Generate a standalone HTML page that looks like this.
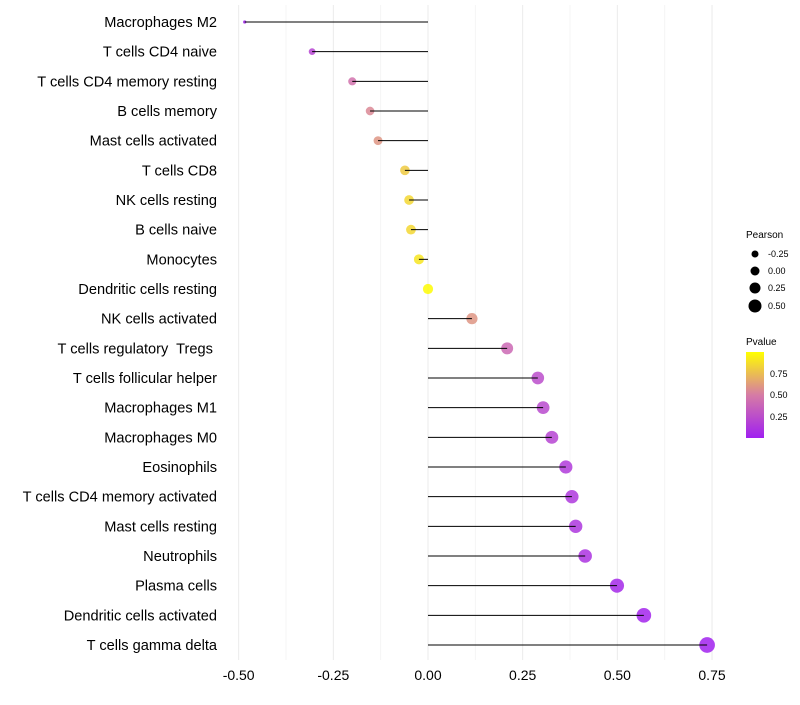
<!DOCTYPE html>
<html><head><meta charset="utf-8"><style>
body{margin:0;background:#fff;font-family:"Liberation Sans",sans-serif}
text{white-space:pre}
</style></head><body>
<svg id="c" width="800" height="700" xmlns="http://www.w3.org/2000/svg" style="white-space:pre">
<defs><linearGradient id="pg" x1="0" y1="1" x2="0" y2="0">
<stop offset="0" stop-color="#A020F0"/><stop offset="0.5" stop-color="#D67BA5"/><stop offset="1" stop-color="#FFFF00"/></linearGradient></defs>
<g id="grid"></g><g id="pts"></g><g id="marks"></g><g id="labels"></g>
<g font-size="9">
<text x="746" y="238" font-size="10">Pearson</text>
<circle cx="755" cy="254" r="3.5"/><text x="768" y="257">-0.25</text>
<circle cx="755" cy="271" r="4.5"/><text x="768" y="274">0.00</text>
<circle cx="755" cy="288" r="5.5"/><text x="768" y="291">0.25</text>
<circle cx="755" cy="306" r="6.5"/><text x="768" y="309">0.50</text>
</g>
<g font-size="9">
<text x="746" y="345" font-size="10">Pvalue</text>
<rect x="746" y="352" width="18" height="86" fill="url(#pg)"/>
<text x="770" y="377">0.75</text><text x="770" y="398">0.50</text><text x="770" y="420">0.25</text>
</g>
</svg>
<script>
const categories=["Macrophages M2","T cells CD4 naive","T cells CD4 memory resting","B cells memory","Mast cells activated","T cells CD8","NK cells resting","B cells naive","Monocytes","Dendritic cells resting","NK cells activated","T cells regulatory  Tregs ","T cells follicular helper","Macrophages M1","Macrophages M0","Eosinophils","T cells CD4 memory activated","Mast cells resting","Neutrophils","Plasma cells","Dendritic cells activated","T cells gamma delta"];
const pearson=[-0.484,-0.306,-0.2,-0.153,-0.132,-0.061,-0.05,-0.045,-0.024,0.0,0.116,0.209,0.29,0.304,0.327,0.364,0.38,0.39,0.415,0.499,0.57,0.737];
const pvalue=[0.02,0.2,0.45,0.55,0.6,0.8,0.85,0.85,0.9,0.99,0.6,0.4,0.25,0.23,0.2,0.15,0.13,0.12,0.1,0.05,0.03,0.01];
const xTicks=[-0.5,-0.25,0,0.25,0.5,0.75];
const xTickLabels=["-0.50","-0.25","0.00","0.25","0.50","0.75"];
const NS="http://www.w3.org/2000/svg";
const x=v=>428+v*378.7;
const y=i=>22+i*(623/(categories.length-1));
const rad=v=>Math.sqrt(Math.max(2,26+48*v));
function lerp(a,b,t){return a.map((c,i)=>Math.round(c+(b[i]-c)*t));}
function col(p){const A=[160,32,240],B=[214,123,165],C=[255,255,0];const c=p<0.5?lerp(A,B,p/0.5):lerp(B,C,(p-0.5)/0.5);return `rgb(${c.join(',')})`;}
function mk(t,a,parent){const e=document.createElementNS(NS,t);for(const k in a)e.setAttribute(k,a[k]);document.getElementById(parent).appendChild(e);return e;}
xTicks.forEach((t,i)=>{
 const g=mk('line',{x1:x(t),x2:x(t),y1:5,y2:660,stroke:'#ebebeb','stroke-width':1},'grid');
 
 
 if(i<xTicks.length-1){const m=mk('line',{x1:x(t+0.125),x2:x(t+0.125),y1:5,y2:660,stroke:'#f4f4f4','stroke-width':1},'grid');
 
 }
 const tl=mk('text',{x:x(t),y:680,'text-anchor':'middle','font-size':14,fill:'#000'},'labels');
 tl.textContent=xTickLabels[i];
 
 
});
categories.forEach((c,i)=>{
 const d=mk('circle',{cx:x(pearson[i]),cy:y(i),r:rad(pearson[i]),fill:col(pvalue[i]),'fill-opacity':0.85},'pts');
 
 
 const l=mk('line',{x1:x(0),x2:x(pearson[i]),y1:y(i),y2:y(i),stroke:'#000','stroke-width':1},'marks');
 
 
 const t=mk('text',{x:217,y:y(i)+5,'text-anchor':'end','font-size':14.6,fill:'#000'},'labels');
 t.textContent=c;
 
 
});
</script>
</body></html>
